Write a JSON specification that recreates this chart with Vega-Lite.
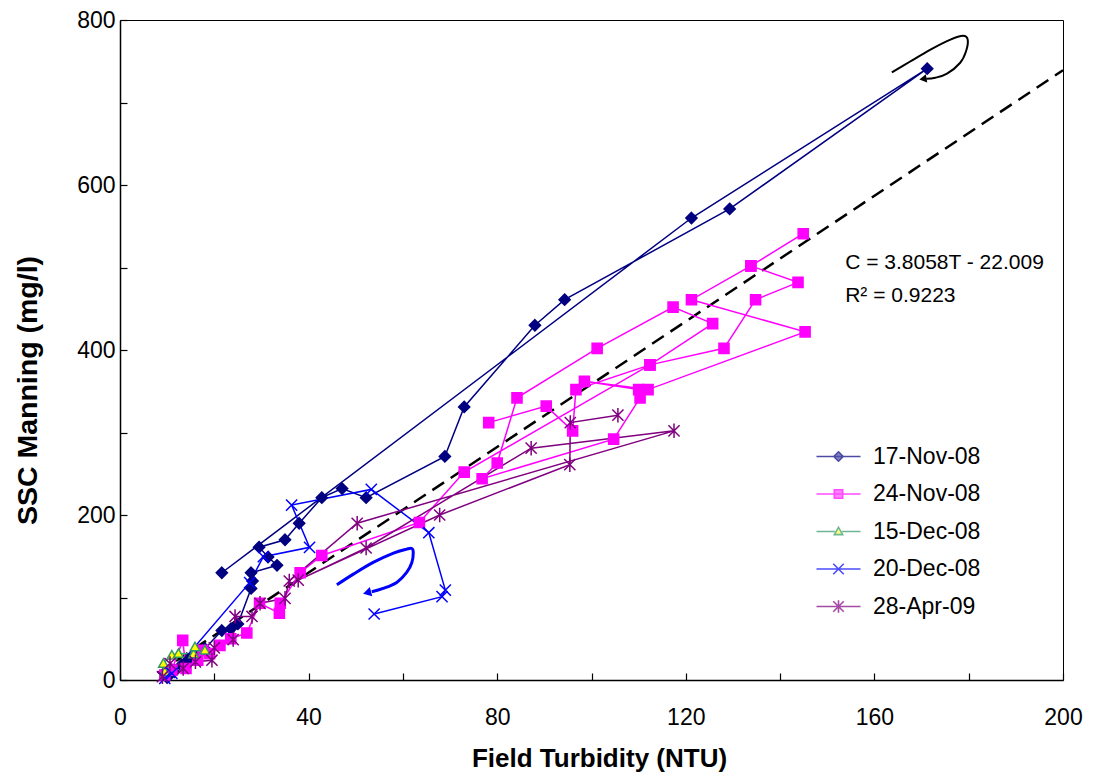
{
  "$schema": "https://vega.github.io/schema/vega-lite/v6.json",
  "width": 943,
  "height": 660,
  "autosize": {"type": "none"},
  "padding": {"left": 120, "top": 20, "right": 38, "bottom": 98},
  "background": "white",
  "config": {
    "view": {"stroke": "black", "strokeWidth": 1},
    "font": "Liberation Sans",
    "axis": {
      "domainColor": "black",
      "domainWidth": 1.5,
      "tickColor": "black",
      "tickWidth": 1.2,
      "tickSize": -7,
      "grid": false,
      "labelFont": "Liberation Sans",
      "labelFontSize": 23,
      "labelColor": "black",
      "titleFont": "Liberation Sans",
      "titleFontWeight": "bold",
      "titleColor": "black"
    }
  },
  "datasets": {
    "obs": [
      {"s": "17-Nov-08", "i": 1, "T": 10, "C": 3},
      {"s": "17-Nov-08", "i": 2, "T": 11.5, "C": 10},
      {"s": "17-Nov-08", "i": 3, "T": 13, "C": 18},
      {"s": "17-Nov-08", "i": 4, "T": 14.5, "C": 25},
      {"s": "17-Nov-08", "i": 5, "T": 16, "C": 30},
      {"s": "17-Nov-08", "i": 6, "T": 18, "C": 38},
      {"s": "17-Nov-08", "i": 7, "T": 21.6, "C": 60},
      {"s": "17-Nov-08", "i": 8, "T": 23.5, "C": 62},
      {"s": "17-Nov-08", "i": 9, "T": 25, "C": 68},
      {"s": "17-Nov-08", "i": 10, "T": 27.8, "C": 111},
      {"s": "17-Nov-08", "i": 11, "T": 28.1, "C": 120},
      {"s": "17-Nov-08", "i": 12, "T": 27.8, "C": 130},
      {"s": "17-Nov-08", "i": 13, "T": 33.3, "C": 139},
      {"s": "17-Nov-08", "i": 14, "T": 31.4, "C": 149},
      {"s": "17-Nov-08", "i": 15, "T": 29.5, "C": 161},
      {"s": "17-Nov-08", "i": 16, "T": 35, "C": 170},
      {"s": "17-Nov-08", "i": 17, "T": 38, "C": 190},
      {"s": "17-Nov-08", "i": 18, "T": 42.8, "C": 221},
      {"s": "17-Nov-08", "i": 19, "T": 47.1, "C": 232},
      {"s": "17-Nov-08", "i": 20, "T": 52.2, "C": 221},
      {"s": "17-Nov-08", "i": 21, "T": 68.9, "C": 271},
      {"s": "17-Nov-08", "i": 22, "T": 73, "C": 331},
      {"s": "17-Nov-08", "i": 23, "T": 88, "C": 430},
      {"s": "17-Nov-08", "i": 24, "T": 94.3, "C": 461},
      {"s": "17-Nov-08", "i": 25, "T": 129.3, "C": 571},
      {"s": "17-Nov-08", "i": 26, "T": 171.2, "C": 741},
      {"s": "17-Nov-08", "i": 27, "T": 121.2, "C": 560},
      {"s": "17-Nov-08", "i": 28, "T": 21.6, "C": 130},
      {"s": "24-Nov-08", "i": 1, "T": 9.5, "C": 6},
      {"s": "24-Nov-08", "i": 2, "T": 11, "C": 12},
      {"s": "24-Nov-08", "i": 3, "T": 13.3, "C": 48},
      {"s": "24-Nov-08", "i": 4, "T": 14, "C": 14},
      {"s": "24-Nov-08", "i": 5, "T": 16.5, "C": 24},
      {"s": "24-Nov-08", "i": 6, "T": 17.6, "C": 36},
      {"s": "24-Nov-08", "i": 7, "T": 19, "C": 32},
      {"s": "24-Nov-08", "i": 8, "T": 21.2, "C": 42},
      {"s": "24-Nov-08", "i": 9, "T": 23.5, "C": 50},
      {"s": "24-Nov-08", "i": 10, "T": 26.9, "C": 57},
      {"s": "24-Nov-08", "i": 11, "T": 29.6, "C": 93},
      {"s": "24-Nov-08", "i": 12, "T": 33.8, "C": 81},
      {"s": "24-Nov-08", "i": 13, "T": 34, "C": 93},
      {"s": "24-Nov-08", "i": 14, "T": 38.2, "C": 130},
      {"s": "24-Nov-08", "i": 15, "T": 42.8, "C": 151},
      {"s": "24-Nov-08", "i": 16, "T": 63.5, "C": 191},
      {"s": "24-Nov-08", "i": 17, "T": 73, "C": 252},
      {"s": "24-Nov-08", "i": 18, "T": 112.4, "C": 382},
      {"s": "24-Nov-08", "i": 19, "T": 128.1, "C": 402},
      {"s": "24-Nov-08", "i": 20, "T": 134.8, "C": 461},
      {"s": "24-Nov-08", "i": 21, "T": 143.8, "C": 482},
      {"s": "24-Nov-08", "i": 22, "T": 133.8, "C": 502},
      {"s": "24-Nov-08", "i": 23, "T": 144.9, "C": 541},
      {"s": "24-Nov-08", "i": 24, "T": 133.8, "C": 502},
      {"s": "24-Nov-08", "i": 25, "T": 121.2, "C": 461},
      {"s": "24-Nov-08", "i": 26, "T": 145.3, "C": 422},
      {"s": "24-Nov-08", "i": 27, "T": 112, "C": 352},
      {"s": "24-Nov-08", "i": 28, "T": 98.5, "C": 362},
      {"s": "24-Nov-08", "i": 29, "T": 110, "C": 352},
      {"s": "24-Nov-08", "i": 30, "T": 110.3, "C": 342},
      {"s": "24-Nov-08", "i": 31, "T": 104.7, "C": 292},
      {"s": "24-Nov-08", "i": 32, "T": 76.8, "C": 244},
      {"s": "24-Nov-08", "i": 33, "T": 80, "C": 263},
      {"s": "24-Nov-08", "i": 34, "T": 84.2, "C": 342},
      {"s": "24-Nov-08", "i": 35, "T": 101.2, "C": 402},
      {"s": "24-Nov-08", "i": 36, "T": 117.3, "C": 452},
      {"s": "24-Nov-08", "i": 37, "T": 125.7, "C": 432},
      {"s": "24-Nov-08", "i": 38, "T": 112.4, "C": 382},
      {"s": "24-Nov-08", "i": 39, "T": 96.7, "C": 352},
      {"s": "24-Nov-08", "i": 40, "T": 96, "C": 302},
      {"s": "24-Nov-08", "i": 41, "T": 90.4, "C": 332},
      {"s": "24-Nov-08", "i": 42, "T": 78.2, "C": 312},
      {"s": "15-Dec-08", "i": 1, "T": 9.5, "C": 10},
      {"s": "15-Dec-08", "i": 2, "T": 9.2, "C": 20},
      {"s": "15-Dec-08", "i": 3, "T": 11, "C": 30},
      {"s": "15-Dec-08", "i": 4, "T": 12.4, "C": 32},
      {"s": "15-Dec-08", "i": 5, "T": 15.6, "C": 31.5},
      {"s": "15-Dec-08", "i": 6, "T": 15.9, "C": 40},
      {"s": "15-Dec-08", "i": 7, "T": 18, "C": 36},
      {"s": "20-Dec-08", "i": 1, "T": 9.5, "C": 2},
      {"s": "20-Dec-08", "i": 2, "T": 11, "C": 8},
      {"s": "20-Dec-08", "i": 3, "T": 27.5, "C": 118},
      {"s": "20-Dec-08", "i": 4, "T": 30.4, "C": 149.5},
      {"s": "20-Dec-08", "i": 5, "T": 40.2, "C": 160.8},
      {"s": "20-Dec-08", "i": 6, "T": 36.4, "C": 212},
      {"s": "20-Dec-08", "i": 7, "T": 53.3, "C": 231},
      {"s": "20-Dec-08", "i": 8, "T": 65.5, "C": 178.5},
      {"s": "20-Dec-08", "i": 9, "T": 69, "C": 109},
      {"s": "20-Dec-08", "i": 10, "T": 68.3, "C": 101},
      {"s": "20-Dec-08", "i": 11, "T": 53.9, "C": 80},
      {"s": "28-Apr-09", "i": 1, "T": 9, "C": 4},
      {"s": "28-Apr-09", "i": 2, "T": 10.6, "C": 20},
      {"s": "28-Apr-09", "i": 3, "T": 13.4, "C": 14},
      {"s": "28-Apr-09", "i": 4, "T": 16, "C": 22},
      {"s": "28-Apr-09", "i": 5, "T": 19.5, "C": 24},
      {"s": "28-Apr-09", "i": 6, "T": 20, "C": 39},
      {"s": "28-Apr-09", "i": 7, "T": 24, "C": 49},
      {"s": "28-Apr-09", "i": 8, "T": 24.4, "C": 77},
      {"s": "28-Apr-09", "i": 9, "T": 28, "C": 77},
      {"s": "28-Apr-09", "i": 10, "T": 29.7, "C": 93},
      {"s": "28-Apr-09", "i": 11, "T": 35, "C": 99},
      {"s": "28-Apr-09", "i": 12, "T": 35.9, "C": 120},
      {"s": "28-Apr-09", "i": 13, "T": 50.3, "C": 190},
      {"s": "28-Apr-09", "i": 14, "T": 117.5, "C": 302},
      {"s": "28-Apr-09", "i": 15, "T": 87.2, "C": 281},
      {"s": "28-Apr-09", "i": 16, "T": 52.2, "C": 160},
      {"s": "28-Apr-09", "i": 17, "T": 37.8, "C": 121},
      {"s": "28-Apr-09", "i": 18, "T": 67.8, "C": 200},
      {"s": "28-Apr-09", "i": 19, "T": 95.4, "C": 261},
      {"s": "28-Apr-09", "i": 20, "T": 95.5, "C": 312},
      {"s": "28-Apr-09", "i": 21, "T": 105.6, "C": 321}
    ],
    "fit": [
      {"T": 8, "C": 8.44},
      {"T": 200, "C": 739.15}
    ],
    "arrows": [
      {"a": "black", "i": 1, "T": 163.7, "C": 736.4},
      {"a": "black", "i": 2, "T": 167.5, "C": 749.4},
      {"a": "black", "i": 3, "T": 171.8, "C": 763.9},
      {"a": "black", "i": 4, "T": 176, "C": 776},
      {"a": "black", "i": 5, "T": 178.8, "C": 780.9},
      {"a": "black", "i": 6, "T": 179.8, "C": 776},
      {"a": "black", "i": 7, "T": 179.4, "C": 761.5},
      {"a": "black", "i": 8, "T": 178.2, "C": 748.2},
      {"a": "black", "i": 9, "T": 175.4, "C": 734.9},
      {"a": "black", "i": 10, "T": 172.9, "C": 730},
      {"a": "black", "i": 11, "T": 171, "C": 728.8},
      {"a": "blue", "i": 1, "T": 46, "C": 115.4},
      {"a": "blue", "i": 2, "T": 49.5, "C": 128.3},
      {"a": "blue", "i": 3, "T": 53.7, "C": 142.5},
      {"a": "blue", "i": 4, "T": 58, "C": 153.8},
      {"a": "blue", "i": 5, "T": 60.8, "C": 158.6},
      {"a": "blue", "i": 6, "T": 61.9, "C": 159.4},
      {"a": "blue", "i": 7, "T": 62.2, "C": 154.6},
      {"a": "blue", "i": 8, "T": 61.9, "C": 142.5},
      {"a": "blue", "i": 9, "T": 60.8, "C": 130.4},
      {"a": "blue", "i": 10, "T": 58.7, "C": 118.3},
      {"a": "blue", "i": 11, "T": 55.8, "C": 111},
      {"a": "blue", "i": 12, "T": 53.4, "C": 106.9}
    ],
    "heads": [
      {"a": "black", "T": 170.3, "C": 728.5},
      {"a": "blue", "T": 52.4, "C": 105.8}
    ],
    "note": [
      {"T": 153.8, "C": 506, "label": "C = 3.8058T - 22.009"},
      {"T": 153.8, "C": 466, "label": "R² = 0.9223"}
    ]
  },
  "resolve": {"scale": {"shape": "independent", "fill": "independent", "stroke": "independent"}},
  "layer": [
    {
      "data": {"name": "fit"},
      "mark": {"type": "line", "stroke": "black", "strokeWidth": 2.5, "strokeDash": [14, 8]},
      "encoding": {
        "x": {"field": "T", "type": "quantitative", "scale": {"domain": [0, 200], "nice": false, "zero": false},
              "axis": {"title": "Field Turbidity (NTU)", "values": [0, 20, 40, 60, 80, 100, 120, 140, 160, 180, 200],
                       "labelExpr": "datum.value % 40 == 0 ? datum.label : ''", "labelPadding": 33, "titlePadding": 16, "titleFontSize": 26, "titleX": 479, "labelFlush": false}},
        "y": {"field": "C", "type": "quantitative", "scale": {"domain": [0, 800], "nice": false, "zero": false},
              "axis": {"title": "SSC Manning (mg/l)", "values": [0, 100, 200, 300, 400, 500, 600, 700, 800],
                       "labelExpr": "datum.value % 200 == 0 ? datum.label : ''", "labelPadding": 12, "titlePadding": 34, "titleFontSize": 28.5, "titleY": 370, "labelFlush": false}}
      }
    },
    {
      "data": {"name": "obs"},
      "mark": {"type": "line", "strokeWidth": 1.5},
      "encoding": {
        "x": {"field": "T", "type": "quantitative"},
        "y": {"field": "C", "type": "quantitative"},
        "detail": {"field": "s"},
        "order": {"field": "i", "type": "quantitative"},
        "stroke": {"field": "s", "type": "nominal", "legend": null,
                   "scale": {"domain": ["17-Nov-08", "24-Nov-08", "15-Dec-08", "20-Dec-08", "28-Apr-09"],
                             "range": ["#000080", "#FF00FF", "#3CB371", "#0000FF", "#800080"]}}
      }
    },
    {
      "data": {"name": "obs"},
      "mark": {"type": "point", "filled": true, "size": 125, "strokeWidth": 1.5, "opacity": 1},
      "encoding": {
        "x": {"field": "T", "type": "quantitative"},
        "y": {"field": "C", "type": "quantitative"},
        "shape": {"field": "s", "type": "nominal", "legend": null,
                  "scale": {"domain": ["17-Nov-08", "24-Nov-08", "15-Dec-08", "20-Dec-08", "28-Apr-09"],
                            "range": ["M0,-1L1,0L0,1L-1,0Z", "M-0.9,-0.9L0.9,-0.9L0.9,0.9L-0.9,0.9Z", "M0,-0.85L0.85,0.65L-0.85,0.65Z", "M-1,-1L1,1M-1,1L1,-1", "M-1,-1L1,1M-1,1L1,-1M0,-1.3L0,1.3"]}},
        "fill": {"field": "s", "type": "nominal", "legend": null,
                 "scale": {"domain": ["17-Nov-08", "24-Nov-08", "15-Dec-08", "20-Dec-08", "28-Apr-09"],
                           "range": ["#000080", "#FF00FF", "#FFFF00", "#0000FF", "#800080"]}},
        "stroke": {"field": "s", "type": "nominal", "legend": null,
                   "scale": {"domain": ["17-Nov-08", "24-Nov-08", "15-Dec-08", "20-Dec-08", "28-Apr-09"],
                             "range": ["#000080", "#FF00FF", "#339966", "#0000FF", "#800080"]}}
      }
    },
    {
      "data": {"name": "obs"},
      "transform": [{"filter": "datum.T < -1000"}],
      "mark": {"type": "point", "filled": true, "size": 110, "strokeWidth": 1.5},
      "encoding": {
        "x": {"field": "T", "type": "quantitative"},
        "y": {"field": "C", "type": "quantitative"},
        "shape": {"field": "s", "type": "nominal",
                  "scale": {"domain": ["17-Nov-08", "24-Nov-08", "15-Dec-08", "20-Dec-08", "28-Apr-09"],
                            "range": ["M-4.2,0L4.2,0M0,-0.9L0.9,0L0,0.9L-0.9,0Z", "M-4.2,0L4.2,0M-0.8,-0.8L0.8,-0.8L0.8,0.8L-0.8,0.8Z", "M-4.2,0L-0.7,0M0.7,0L4.2,0M0,-0.8L0.8,0.6L-0.8,0.6Z", "M-4.2,0L4.2,0M-1,-1L1,1M-1,1L1,-1", "M-4.2,0L4.2,0M-1,-1L1,1M-1,1L1,-1M0,-1.2L0,1.2"]},
                  "legend": {"title": null, "orient": "none", "legendX": 707, "legendY": 425, "padding": 0,
                             "labelFontSize": 23, "labelFont": "Liberation Sans", "labelColor": "black",
                             "labelOffset": 23, "rowPadding": 13.5, "symbolStrokeWidth": 1.6, "symbolSize": 110}},
        "fill": {"field": "s", "type": "nominal",
                 "scale": {"domain": ["17-Nov-08", "24-Nov-08", "15-Dec-08", "20-Dec-08", "28-Apr-09"],
                           "range": ["#000080", "#FF00FF", "#FFFF00", "#0000FF", "#800080"]}},
        "stroke": {"field": "s", "type": "nominal",
                   "scale": {"domain": ["17-Nov-08", "24-Nov-08", "15-Dec-08", "20-Dec-08", "28-Apr-09"],
                             "range": ["#000080", "#FF00FF", "#339966", "#0000FF", "#800080"]}}
      }
    },
    {
      "data": {"name": "arrows"},
      "transform": [{"filter": "datum.a == 'black'"}],
      "mark": {"type": "line", "stroke": "black", "strokeWidth": 2, "interpolate": "cardinal"},
      "encoding": {
        "x": {"field": "T", "type": "quantitative"},
        "y": {"field": "C", "type": "quantitative"},
        "order": {"field": "i", "type": "quantitative"}
      }
    },
    {
      "data": {"name": "arrows"},
      "transform": [{"filter": "datum.a == 'blue'"}],
      "mark": {"type": "line", "stroke": "#0000FF", "strokeWidth": 3, "interpolate": "cardinal"},
      "encoding": {
        "x": {"field": "T", "type": "quantitative"},
        "y": {"field": "C", "type": "quantitative"},
        "order": {"field": "i", "type": "quantitative"}
      }
    },
    {
      "data": {"name": "heads"},
      "transform": [{"filter": "datum.a == 'black'"}],
      "mark": {"type": "point", "shape": "triangle-left", "filled": true, "fill": "black", "size": 70, "angle": -10, "opacity": 1},
      "encoding": {
        "x": {"field": "T", "type": "quantitative"},
        "y": {"field": "C", "type": "quantitative"}
      }
    },
    {
      "data": {"name": "heads"},
      "transform": [{"filter": "datum.a == 'blue'"}],
      "mark": {"type": "point", "shape": "triangle-left", "filled": true, "fill": "#0000FF", "size": 90, "angle": -15, "opacity": 1},
      "encoding": {
        "x": {"field": "T", "type": "quantitative"},
        "y": {"field": "C", "type": "quantitative"}
      }
    },
    {
      "data": {"name": "note"},
      "mark": {"type": "text", "align": "left", "baseline": "middle", "fontSize": 21, "font": "Liberation Sans", "color": "black"},
      "encoding": {
        "x": {"field": "T", "type": "quantitative"},
        "y": {"field": "C", "type": "quantitative"},
        "text": {"field": "label"}
      }
    }
  ]
}
